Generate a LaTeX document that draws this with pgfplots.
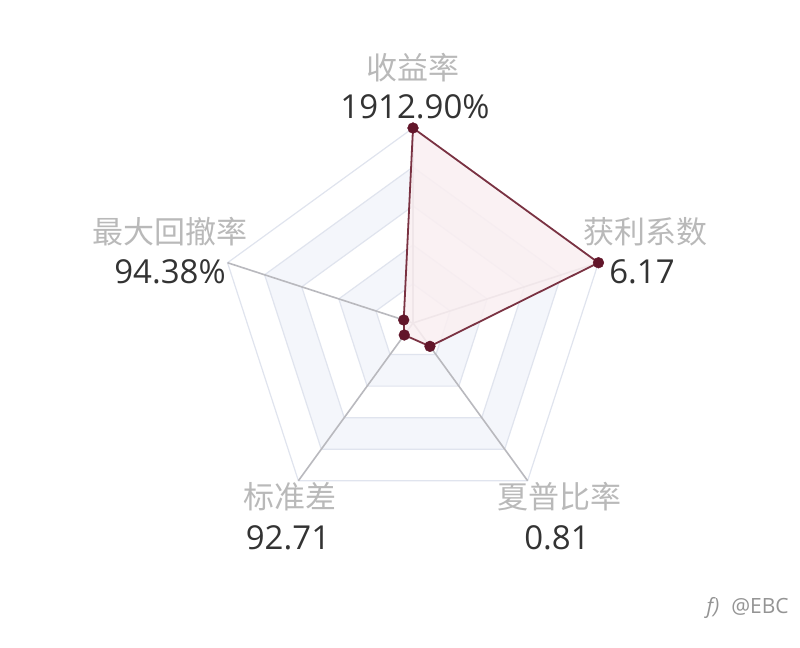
\documentclass[border=0pt]{standalone}
\usepackage{pgfplots}
\pgfplotsset{compat=1.18}
\usepgfplotslibrary{polar}
\usepackage{fontspec}
\setmainfont{Noto Sans CJK SC}
\newfontfamily\numfont{Open Sans}
\definecolor{lblgray}{RGB}{185,185,185}
\definecolor{numgray}{RGB}{51,51,51}
\definecolor{splitline}{RGB}{224,228,238}
\definecolor{bandblue}{RGB}{244,246,251}
\definecolor{axisgray}{RGB}{185,185,190}
\definecolor{series}{RGB}{122,50,66}
\definecolor{seriesdot}{RGB}{98,22,42}
\definecolor{areafill}{RGB}{250,239,241}
\begin{document}
\begin{tikzpicture}
\begin{polaraxis}[
  hide axis, scale only axis, width=390bp, height=390bp,
  xmin=0, xmax=360, ymin=0, ymax=1, clip=false,
]
% split areas and split lines
\addplot[draw=splitline, line width=1.2bp, fill=white] coordinates {(90,1) (18,1) (-54,1) (234,1) (162,1) (90,1)};
\addplot[draw=splitline, line width=1.2bp, fill=bandblue] coordinates {(90,0.8) (18,0.8) (-54,0.8) (234,0.8) (162,0.8) (90,0.8)};
\addplot[draw=splitline, line width=1.2bp, fill=white] coordinates {(90,0.6) (18,0.6) (-54,0.6) (234,0.6) (162,0.6) (90,0.6)};
\addplot[draw=splitline, line width=1.2bp, fill=bandblue] coordinates {(90,0.4) (18,0.4) (-54,0.4) (234,0.4) (162,0.4) (90,0.4)};
\addplot[draw=splitline, line width=1.2bp, fill=white] coordinates {(90,0.2) (18,0.2) (-54,0.2) (234,0.2) (162,0.2) (90,0.2)};
% axis lines
\addplot[axisgray, line width=1.6bp] coordinates {(90,0) (90,1)};
\addplot[axisgray, line width=1.6bp] coordinates {(18,0) (18,1)};
\addplot[axisgray, line width=1.6bp] coordinates {(-54,0) (-54,1)};
\addplot[axisgray, line width=1.6bp] coordinates {(234,0) (234,1)};
\addplot[axisgray, line width=1.6bp] coordinates {(162,0) (162,1)};
% data
\addplot[series, line width=1.8bp, fill=areafill, fill opacity=0.85] coordinates {(90,1) (18,1) (-54,0.148) (234,0.076) (162,0.05) (90,1)};
\addplot[only marks, mark=*, mark size=5.4bp, mark options={fill=seriesdot, draw=seriesdot}] coordinates {(90,1) (18,1) (-54,0.148) (234,0.076) (162,0.05)};
\coordinate (C) at (axis cs:0,0);
\end{polaraxis}
\begin{scope}[shift={(C)}]
\fontsize{31bp}{36bp}\selectfont
\node[lblgray, inner sep=0] at (0bp,255bp) {收益率};
\node[numgray, inner sep=0, font=\fontsize{33bp}{38bp}\selectfont] at (2bp,216bp) {\numfont 1912.90\%};
\node[lblgray, inner sep=0] at (232bp,91bp) {获利系数};
\node[numgray, inner sep=0, font=\fontsize{33bp}{38bp}\selectfont] at (229bp,51bp) {\numfont 6.17};
\node[lblgray, inner sep=0] at (-243bp,91bp) {最大回撤率};
\node[numgray, inner sep=0, font=\fontsize{33bp}{38bp}\selectfont] at (-243bp,51bp) {\numfont 94.38\%};
\node[lblgray, inner sep=0] at (-123bp,-174bp) {标准差};
\node[numgray, inner sep=0, font=\fontsize{33bp}{38bp}\selectfont] at (-125bp,-215bp) {\numfont 92.71};
\node[lblgray, inner sep=0] at (146bp,-174bp) {夏普比率};
\node[numgray, inner sep=0, font=\fontsize{33bp}{38bp}\selectfont] at (144bp,-215bp) {\numfont 0.81};
\node[lblgray!80!black, inner sep=0, font=\fontsize{21bp}{23bp}\selectfont] at (347bp,-284bp) {\numfont @EBC};
\node[lblgray!80!black, inner sep=0, font=\fontsize{21bp}{23bp}\selectfont\itshape] at (300bp,-285bp) {\numfont f)};
\pgfresetboundingbox
\useasboundingbox (-413bp,-325bp) rectangle (387bp,323bp);
\end{scope}
\end{tikzpicture}
\end{document}
